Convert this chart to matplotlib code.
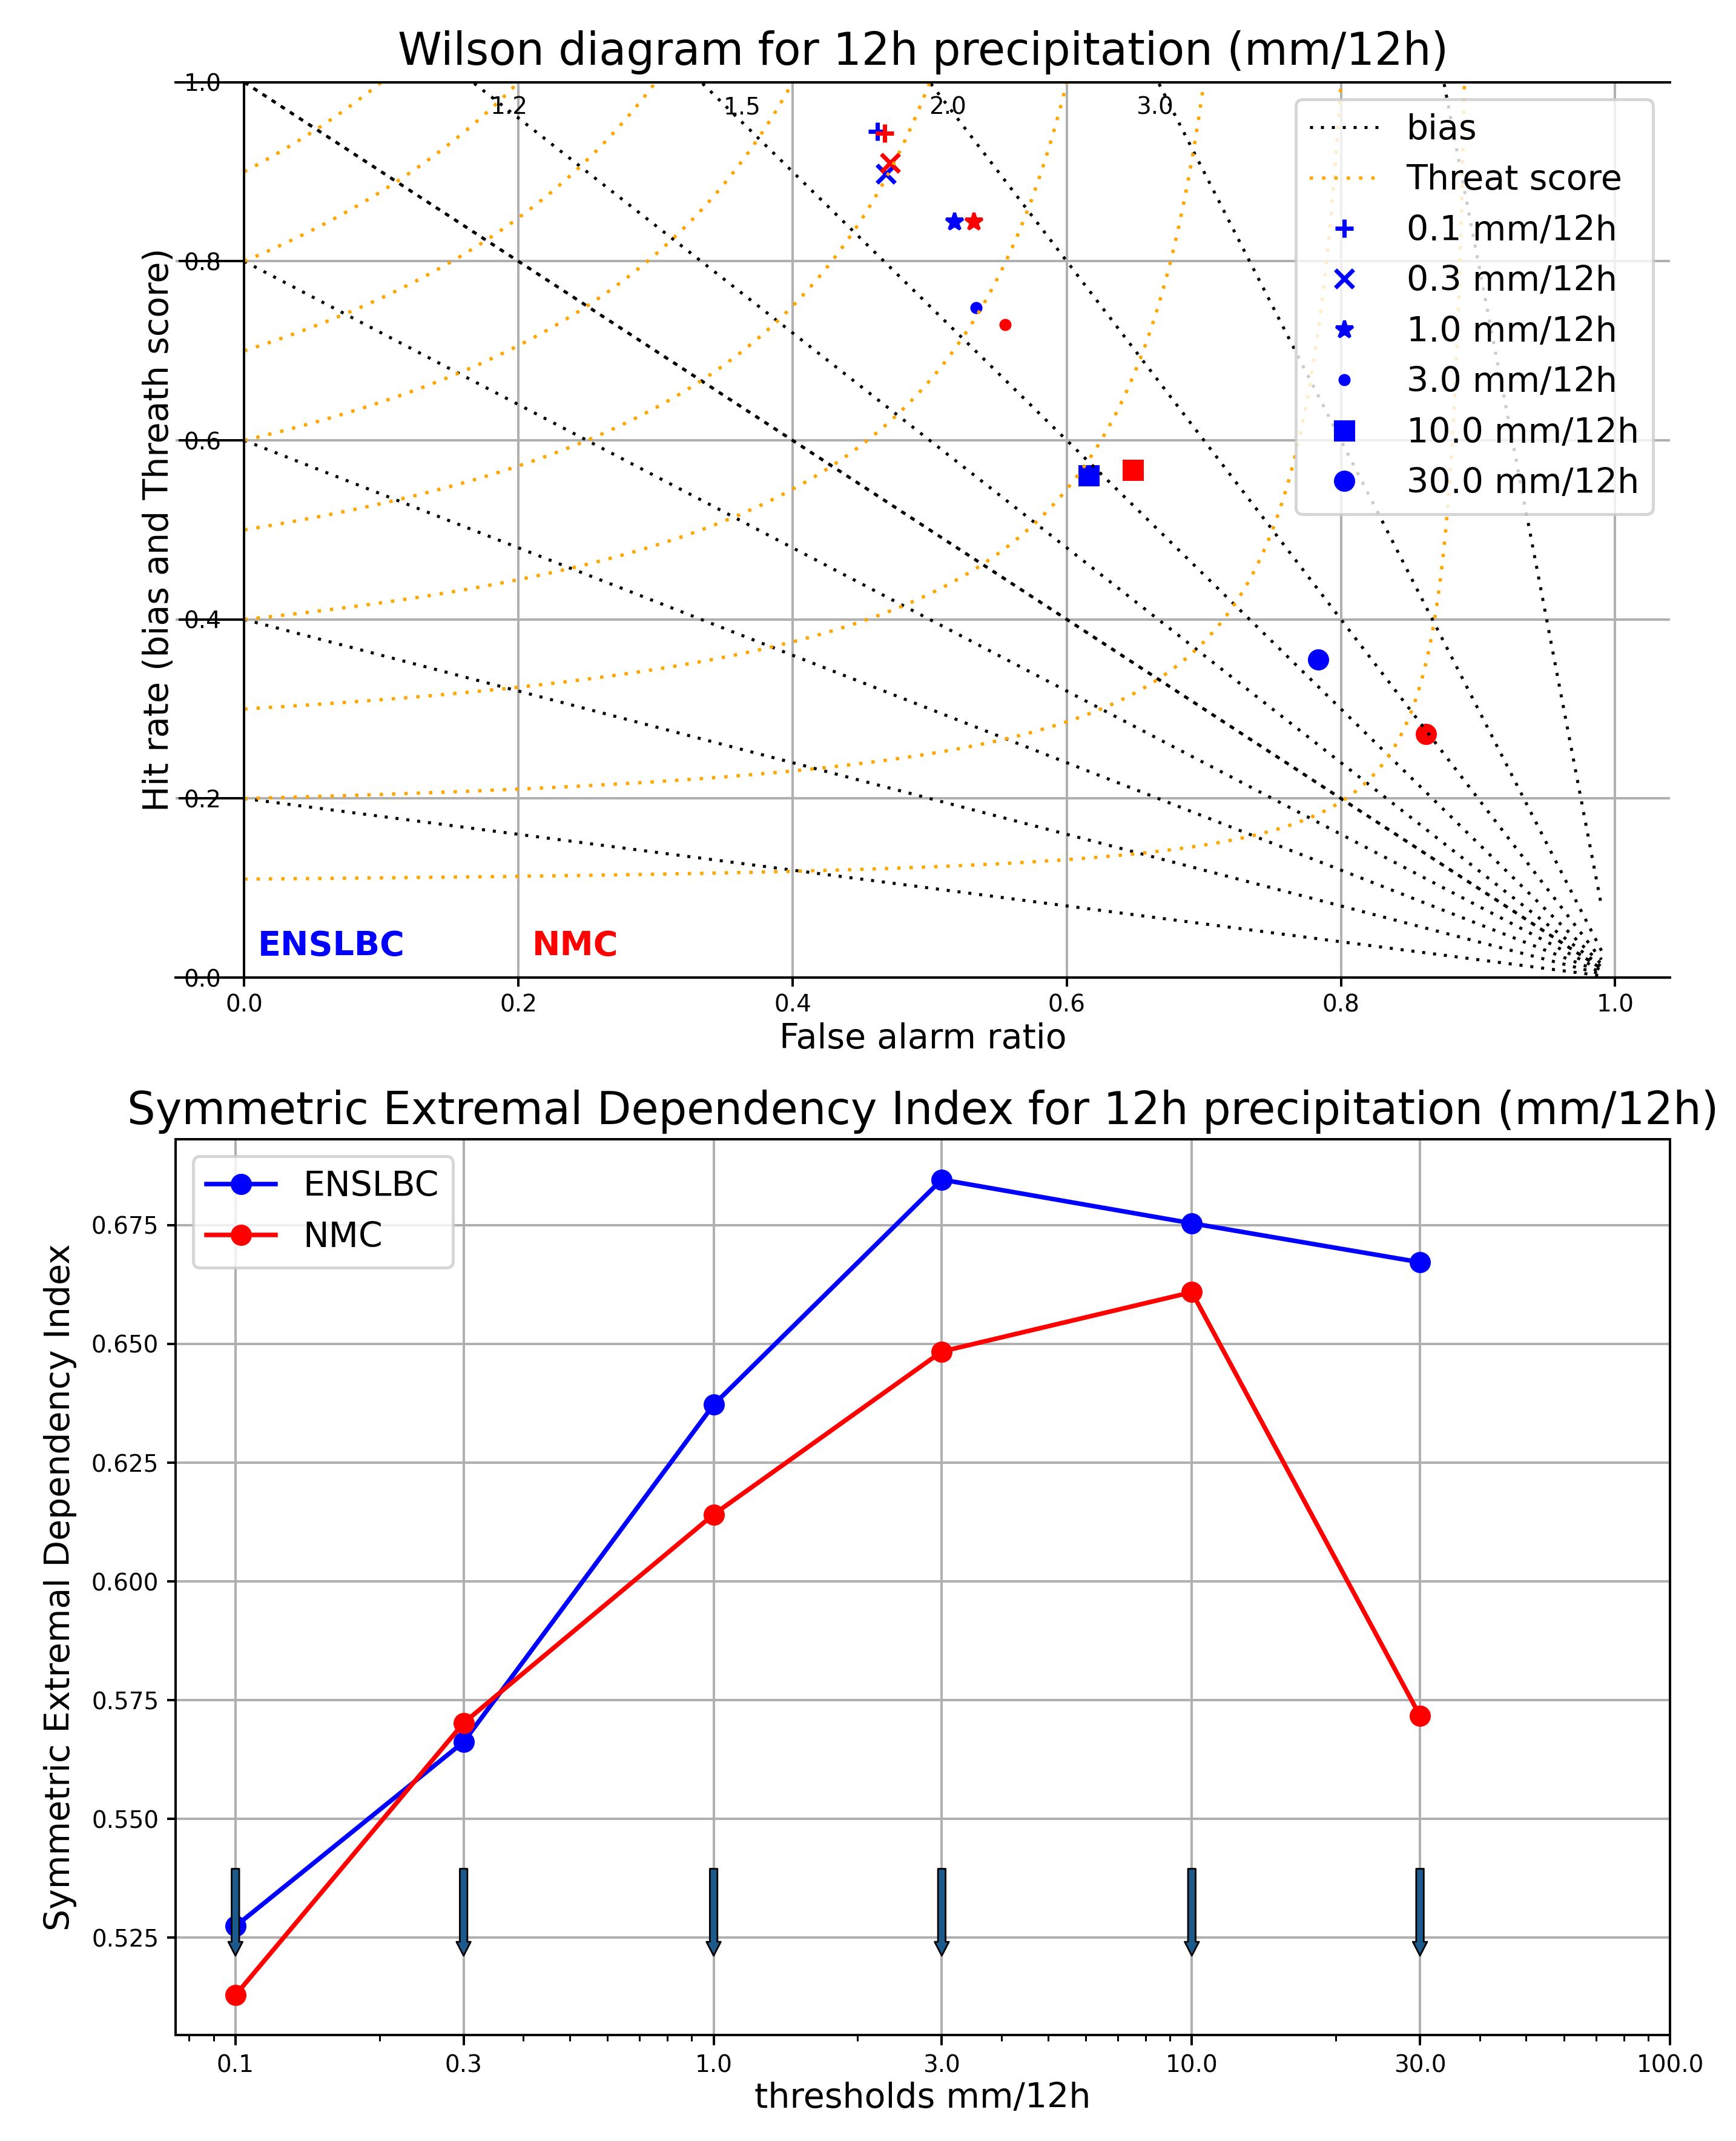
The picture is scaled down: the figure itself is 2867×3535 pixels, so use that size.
import numpy as np
import matplotlib
matplotlib.use("Agg")
import matplotlib.pyplot as plt
from matplotlib.lines import Line2D

# thresholds (mm/12h) and their markers in the Wilson diagram
thresholds = [0.1, 0.3, 1.0, 3.0, 10.0, 30.0]
threshold_names = ['0.1 mm/12h', '0.3 mm/12h', '1.0 mm/12h',
                   '3.0 mm/12h', '10.0 mm/12h', '30.0 mm/12h']
markers = ['+', 'x', '*', '.', 's', 'o']

# Wilson diagram: false alarm ratio / hit rate
far_enslbc = [0.462, 0.468, 0.518, 0.534, 0.616, 0.7835]
pod_enslbc = [0.945, 0.898, 0.844, 0.748, 0.5605, 0.355]
far_nmc = [0.467, 0.471, 0.532, 0.555, 0.648, 0.862]
pod_nmc = [0.943, 0.910, 0.844, 0.729, 0.567, 0.272]

# background isolines
bias_levels = [0.2, 0.4, 0.6, 0.8, 1.0, 1.0, 1.2, 1.5, 2.0, 3.0, 8.0]
bias_labels = ['1.2', '1.5', '2.0', '3.0']
bias_label_x = [0.193, 0.363, 0.513, 0.664]
bias_label_y = 0.972
ts_levels = [0.11, 0.2, 0.3, 0.4, 0.5, 0.6, 0.7, 0.8, 0.9]

# SEDI per threshold
sedi_enslbc = [0.5274, 0.5662, 0.6372, 0.6846, 0.6754, 0.6672]
sedi_nmc = [0.5129, 0.5702, 0.6141, 0.6484, 0.6609, 0.5717]
sedi_xticks = [0.1, 0.3, 1.0, 3.0, 10.0, 30.0, 100.0]
arrow_from = 0.5395
arrow_to = 0.5212

S = 3.6  # scale of the original line widths
bias_ls = (0, (1, 2.6))
ts_ls = (0, (1, 2.7))

fig = plt.figure(figsize=(28.67, 35.35), dpi=100)

# ---------------- Wilson diagram ----------------
ax1 = fig.add_axes([0.1012, 0.5434, 0.8608, 0.4182])


def mew_for(m):
    # thin markers (+, x) look bolder in the original
    return 1.4 * S if m in ('+', 'x') else S


for i in range(len(thresholds)):
    ax1.plot(far_enslbc[i], pod_enslbc[i], ls='none', marker=markers[i],
             color='blue', ms=6 * S, mew=mew_for(markers[i]))
for i in range(len(thresholds)):
    ax1.plot(far_nmc[i], pod_nmc[i], ls='none', marker=markers[i],
             color='red', ms=6 * S, mew=mew_for(markers[i]))

k = 0
for b in bias_levels:
    x0 = max(0.0, 1.0 - 1.0 / b)
    x = np.linspace(x0, 0.99, 200)
    off = 0 if k == 0 else 3
    ax1.plot(x, b * (1 - x), color='black', lw=1.0 * S,
             ls=(off, (1, 2.6)))
    if b == 1.0:
        k += 1

for ts in ts_levels:
    x = np.linspace(0, 1 - ts, 400)
    pod = 1.0 / (1.0 / ts + 1.0 - 1.0 / (1.0 - x))
    ax1.plot(x, pod, color='orange', lw=1.1 * S, ls=ts_ls)

for lab, xl in zip(bias_labels, bias_label_x):
    ax1.text(xl, bias_label_y, lab, fontsize=28, ha='center', va='center')

ax1.text(0.01, 0.035, 'ENSLBC', color='blue', fontsize=40,
         fontweight='bold', va='center')
ax1.text(0.21, 0.035, 'NMC', color='red', fontsize=40,
         fontweight='bold', va='center')

ax1.set_xlim(-0.05, 1.04)
ax1.set_ylim(0, 1)
ax1.spines['left'].set_position(('data', 0))
ax1.spines['right'].set_visible(False)
for sp in ax1.spines.values():
    sp.set_linewidth(0.8 * S)
ax1.set_xticks([0.0, 0.2, 0.4, 0.6, 0.8, 1.0])
ax1.set_yticks([0.0, 0.2, 0.4, 0.6, 0.8, 1.0])
ax1.tick_params(axis='y', length=78, pad=-51, width=0.8 * S, labelsize=28)
ax1.tick_params(axis='x', length=11, pad=8, width=0.8 * S, labelsize=28)
ax1.grid(True, color='#b0b0b0', lw=0.8 * S)

ax1.set_title('Wilson diagram for 12h precipitation (mm/12h)',
              fontsize=53, pad=21)
ax1.set_xlabel('False alarm ratio', fontsize=41)
ax1.set_ylabel('Hit rate (bias and Threath score)', fontsize=41)
ax1.xaxis.set_label_coords(0.5, -0.05)
ax1.yaxis.set_label_coords(0.0, 0.5)

handles = [Line2D([], [], color='black', lw=1.0 * S, ls=bias_ls),
           Line2D([], [], color='orange', lw=1.1 * S, ls=ts_ls)]
for m in markers:
    handles.append(Line2D([], [], ls='none', marker=m, color='blue',
                          ms=6 * S, mew=mew_for(m)))
leg = ax1.legend(handles, ['bias', 'Threat score'] + threshold_names,
                 loc='upper right', fontsize=41, numpoints=1)
leg.get_frame().set_linewidth(S)

# ---------------- SEDI ----------------
ax2 = fig.add_axes([0.1012, 0.0495, 0.8608, 0.4184])
ax2.plot(thresholds, sedi_enslbc, color='blue', marker='o', lw=1.5 * S,
         ms=6 * S, mew=S, label='ENSLBC')
ax2.plot(thresholds, sedi_nmc, color='red', marker='o', lw=1.5 * S,
         ms=6 * S, mew=S, label='NMC')
for t in thresholds:
    ax2.annotate('', xy=(t, arrow_to), xytext=(t, arrow_from),
                 arrowprops=dict(facecolor='#1d5a8c', edgecolor='black',
                                 width=9, headwidth=17, headlength=16.5,
                                 shrink=0.0, lw=2))

ax2.set_xscale('log')
ax2.set_xlim(0.075, 100)
ax2.set_ylim(0.5045, 0.6931)
ax2.set_xticks(sedi_xticks)
ax2.set_xticklabels([str(v) for v in sedi_xticks])
ax2.set_yticks([0.525, 0.550, 0.575, 0.600, 0.625, 0.650, 0.675])
for sp in ax2.spines.values():
    sp.set_linewidth(0.8 * S)
ax2.tick_params(axis='both', which='major', length=12.5, width=0.8 * S,
                pad=10, labelsize=28)
ax2.tick_params(axis='y', which='major', length=10)
ax2.tick_params(axis='x', which='minor', length=7, width=0.6 * S)
ax2.grid(True, which='major', color='#b0b0b0', lw=0.8 * S)

ax2.set_title('Symmetric Extremal Dependency Index for 12h precipitation (mm/12h)',
              fontsize=53, pad=18)
ax2.set_xlabel('thresholds mm/12h', fontsize=41)
ax2.set_ylabel('Symmetric Extremal Dependency Index', fontsize=41)
ax2.xaxis.set_label_coords(0.5, -0.052)
ax2.yaxis.set_label_coords(-0.066, 0.5)
leg2 = ax2.legend(loc='upper left', fontsize=41)
leg2.get_frame().set_linewidth(S)

fig.savefig('out.png', dpi=100)
